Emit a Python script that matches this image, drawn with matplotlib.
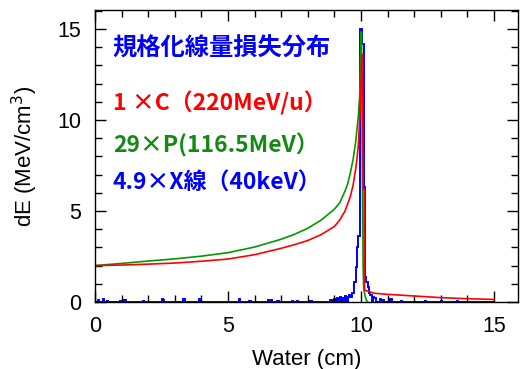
import numpy as np
import matplotlib
matplotlib.use("Agg")
import matplotlib.pyplot as plt
from matplotlib.ticker import MultipleLocator

plt.rcParams['font.family'] = ['Liberation Sans', 'DejaVu Sans']

# Carbon (red)
red_x = [0, 1, 2, 3, 4, 5, 6, 7, 7.5, 8, 8.5, 9, 9.2, 9.4, 9.6, 9.7, 9.8, 9.85, 9.9, 9.95,
         10.0, 10.03, 10.06, 10.08, 10.12, 10.13, 10.3, 10.5, 11, 12, 13, 14, 15]
red_y = [2.0, 2.03, 2.08, 2.14, 2.24, 2.36, 2.6, 2.95, 3.15, 3.38, 3.7, 4.15, 4.5, 5.0, 5.8,
         6.4, 7.3, 7.9, 8.6, 10.0, 11.8, 13.6, 13.6, 6.2, 6.2, 0.65, 0.57, 0.48, 0.42, 0.33,
         0.24, 0.18, 0.14]

# Proton (green)
green_x = [0, 1, 2, 3, 4, 5, 6, 7, 7.5, 8, 8.5, 9, 9.2, 9.4, 9.5, 9.6, 9.7, 9.8, 9.85, 9.9,
           9.95, 9.98, 10.0, 10.02, 10.05, 10.08, 10.1, 10.15, 10.2, 10.25]
green_y = [2.0, 2.12, 2.25, 2.37, 2.52, 2.71, 3.02, 3.45, 3.72, 4.05, 4.5, 5.1, 5.45, 6.1,
           6.5, 7.1, 7.8, 8.8, 9.5, 10.2, 11.3, 13.0, 14.85, 14.8, 8.0, 2.0, 0.8, 0.35, 0.1, 0.0]

# X-ray (blue) histogram: non-zero bins (left edge, height), bin width 0.05
blue_bin_left = [0.1, 0.3, 0.45, 0.95, 1.1, 1.8, 2.5, 2.55, 3.3, 3.35, 3.9, 5.4, 5.8, 6.5,
                 6.6, 6.85, 7.4, 7.6, 8.1, 8.85, 9.0, 9.1, 9.2, 9.3, 9.4, 9.5, 9.55, 9.6,
                 9.65, 9.7, 9.75, 9.8, 9.85, 9.9, 9.95, 10.0, 10.05, 10.1, 10.15, 10.2,
                 10.25, 10.3, 10.35, 10.45, 10.5, 10.7, 10.8, 11.1, 11.5, 12.4, 13.0, 13.6]
blue_bin_y = [0.1, 0.16, 0.05, 0.08, 0.1, 0.08, 0.17, 0.12, 0.17, 0.17, 0.17, 0.15, 0.08,
              0.12, 0.1, 0.08, 0.06, 0.08, 0.06, 0.1, 0.15, 0.2, 0.3, 0.2, 0.35, 0.25,
              0.4, 0.3, 0.5, 0.5, 1.1, 1.9, 3.0, 3.6, 15.0, 15.0, 14.2, 6.3, 1.4, 1.1,
              0.84, 0.5, 0.4, 0.3, 0.2, 0.15, 0.1, 0.15, 0.05, 0.05, 0.05, 0.05]

title_text = "規格化線量損失分布"
legend_texts = ["1 ×C（220MeV/u）", "29×P(116.5MeV）", "4.9×X線（40keV）"]

fig = plt.figure(figsize=(5.2, 3.69), dpi=100)
ax = fig.add_axes([0.1827, 0.1816, 0.8133, 0.7914])

# build blue step histogram
bw = 0.05
n_bins = 300
edges = np.linspace(0, n_bins * bw, n_bins + 1)
heights = np.zeros(n_bins)
for lx, h in zip(blue_bin_left, blue_bin_y):
    i = int(round(lx / bw))
    if 0 <= i < n_bins:
        heights[i] = max(heights[i], h)

ax.plot(green_x, green_y, color='#009a00', lw=1.2)
ax.plot(red_x, red_y, color='#ff0000', lw=1.2)
ax.stairs(heights, edges, color='#0000ff', lw=1.4)

ax.set_xlim(0, 15.9)
ax.set_ylim(0, 16.05)
ax.xaxis.set_major_locator(MultipleLocator(5))
ax.xaxis.set_minor_locator(MultipleLocator(1))
ax.yaxis.set_major_locator(MultipleLocator(5))
ax.yaxis.set_minor_locator(MultipleLocator(1))
ax.tick_params(which='both', direction='in', top=True, right=True, labelsize=15.5, width=1)
ax.tick_params(which='major', length=8, pad=10)
ax.tick_params(which='minor', length=5)
for s in ax.spines.values():
    s.set_linewidth(1.0)

ax.set_xlabel("Water (cm)", fontsize=16, labelpad=9)
ax.set_ylabel("dE (MeV/cm$^3$)", fontsize=16, labelpad=12)

jp = ['Noto Sans CJK JP', 'DejaVu Sans']
ax.text(0.67, 13.95, title_text, color='#0000ff', fontsize=17.5, fontweight='bold',
        family=jp, va='center', ha='left')
ax.text(0.67, 10.93, legend_texts[0], color='#ff0000', fontsize=16.5, fontweight='bold',
        family=jp, va='center', ha='left')
ax.text(0.67, 8.63, legend_texts[1], color='#138a13', fontsize=16.5, fontweight='bold',
        family=jp, va='center', ha='left')
ax.text(0.67, 6.54, legend_texts[2], color='#0000ff', fontsize=16.5, fontweight='bold',
        family=jp, va='center', ha='left')

fig.savefig("out.png", dpi=100)
